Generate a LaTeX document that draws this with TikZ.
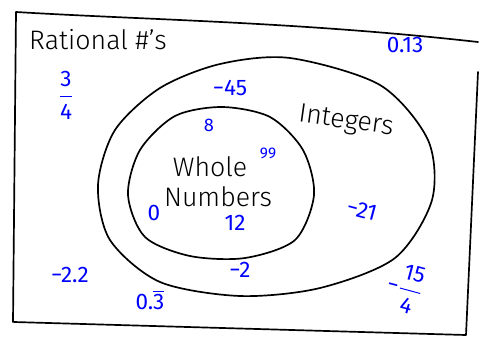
\documentclass[tikz,border=0pt]{standalone}
\usepackage{amsmath}
\usepackage{fontspec}
\setmainfont{Fira Sans Light}[BoldFont=Fira Sans]
\newfontfamily\numfont{Fira Sans}
\newcommand{\fr}[2]{$\dfrac{\text{#1}}{\text{#2}}$}
\tikzset{
    pen/.style={black, line width=1.2pt, line cap=round, line join=round},
    num/.style={blue, font=\numfont\fontsize{16}{17}\selectfont},
    word/.style={black, font=\fontsize{19}{20}\selectfont}
}

\begin{document}
\begin{tikzpicture}[x=0.025cm, y=-0.025cm]
\useasboundingbox (0,0) rectangle (480,338);
% frame
\draw[pen] (13,322) -- (16,12) .. controls (150,20) and (300,22) .. (478,42);
\draw[pen] (478,72) -- (466,335) -- (14,322);
% integers and whole numbers
\draw[pen] plot [smooth cycle] coordinates {(290,58) (380,85) (428,140) (432,200) (395,258) (320,288) (240,296) (160,282) (110,240) (98,185) (115,130) (160,88) (220,64)};
\draw[pen] plot [smooth cycle] coordinates {(222,107) (270,117) (303,150) (314,195) (295,240) (245,258) (190,256) (145,237) (128,195) (140,150) (175,116)};

\node[word] (rat) at (98,40) {Rational \#'s};
\node[word, rotate=-8] (int) at (346,122) {Integers};
\node[word, inner sep=0pt] (whole) at (210,167) {Whole};
\node[word, inner sep=0pt] (numbers) at (218,197) {Numbers};

\node[num] (a) at (405,45) {0.13};
\node[num] (b) at (66,95) {\fr{3}{4}};
\node[num] (c) at (230,88) {−45};
\node[num, font=\numfont\fontsize{13}{14}\selectfont] (d) at (209,125) {8};
\node[num, font=\numfont\fontsize{11}{12}\selectfont, inner sep=1pt] (e) at (268,153) {99};
\node[num] (f) at (154,213) {0};
\node[num] (g) at (235,223) {12};
\node[num, rotate=-15, inner sep=1pt] (h) at (362,210) {−21};
\node[num] (i) at (240,270) {−2};
\node[num] (j) at (70,275) {−2.2};
\node[num] (k) at (150,300) {0.$\overline{\text{3}}$};
\node[num, rotate=-15, inner sep=1pt] (l) at (405,288) {−\fr{15}{4}};
\end{tikzpicture}
\end{document}
